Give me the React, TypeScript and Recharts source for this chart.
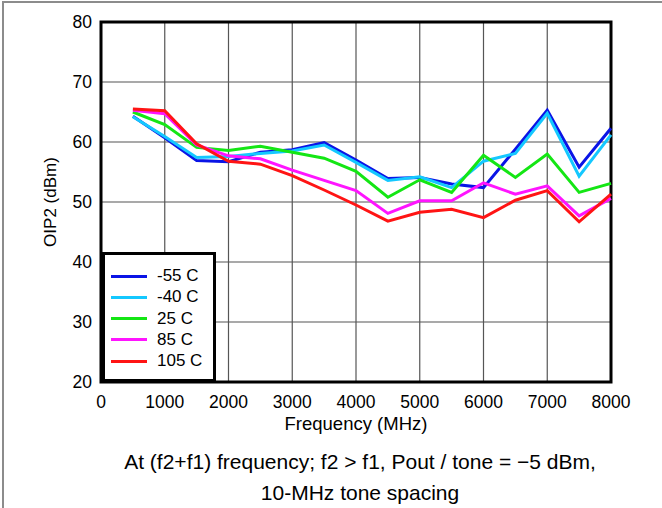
import React from "react";
import {
  LineChart,
  Line,
  XAxis,
  YAxis,
  CartesianGrid,
  ReferenceArea,
} from "recharts";

// frequency points (MHz)
const freqs = [500, 1000, 1500, 2000, 2500, 3000, 3500, 4000, 4500, 5000, 5500, 6000, 6500, 7000, 7500, 8000];

// OIP2 (dBm) per temperature
const m55 = [64.3, 60.7, 56.9, 56.7, 58.3, 58.7, 59.9, 57.0, 53.9, 54.1, 53.0, 52.4, 58.8, 65.3, 55.8, 62.3];
const m40 = [64.2, 60.9, 57.4, 57.6, 58.1, 58.5, 59.5, 56.6, 53.6, 54.2, 52.4, 56.8, 58.1, 64.8, 54.3, 61.2];
const t25 = [65.0, 62.9, 59.1, 58.6, 59.3, 58.3, 57.3, 55.1, 50.8, 53.7, 51.6, 57.8, 54.1, 58.0, 51.6, 53.1];
const t85 = [65.3, 64.7, 59.5, 57.7, 57.2, 55.3, 53.6, 51.9, 48.1, 50.2, 50.2, 53.2, 51.3, 52.7, 47.7, 50.6];
const t105 = [65.5, 65.2, 59.7, 56.8, 56.3, 54.4, 52.0, 49.5, 46.8, 48.3, 48.8, 47.4, 50.3, 51.9, 46.7, 51.3];

const xTicks = [0, 1000, 2000, 3000, 4000, 5000, 6000, 7000, 8000];
const yTicks = [20, 30, 40, 50, 60, 70, 80];

const series = [
  { key: "m55", name: "-55 C", color: "#0a14e6" },
  { key: "m40", name: "-40 C", color: "#14c8ff" },
  { key: "t25", name: "25 C", color: "#14e614" },
  { key: "t85", name: "85 C", color: "#ff14ff" },
  { key: "t105", name: "105 C", color: "#ff1414" },
];

const data = freqs.map((f, i) => ({
  freq: f,
  m55: m55[i],
  m40: m40[i],
  t25: t25[i],
  t85: t85[i],
  t105: t105[i],
}));

const FONT = "'Liberation Sans', Arial, sans-serif";

export default function App() {
  const tickStyle = { fill: "#000", fontSize: 17.5, fontFamily: FONT };
  const captionStyle: React.CSSProperties = {
    position: "absolute",
    left: 10,
    width: 700,
    textAlign: "center",
    fontSize: 21,
    color: "#000",
    lineHeight: "26px",
    whiteSpace: "nowrap",
  };

  return (
    <div
      style={{
        position: "absolute",
        left: 0,
        top: 0,
        width: 662,
        height: 508,
        background: "#fff",
        fontFamily: FONT,
        overflow: "hidden",
      }}
    >
      <div
        style={{
          position: "absolute",
          left: 2,
          top: 1,
          width: 670,
          height: 520,
          borderTop: "2px solid #8c8c8c",
          borderLeft: "2px solid #8c8c8c",
        }}
      />
      <LineChart
        width={662}
        height={508}
        data={data}
        margin={{ top: 22, right: 51, bottom: 78, left: 0 }}
        style={{ position: "absolute", left: 0, top: 0 }}
      >
        <CartesianGrid stroke="#555" strokeWidth={1.2} horizontalValues={yTicks} verticalValues={xTicks} />
        <XAxis
          dataKey="freq"
          type="number"
          domain={[0, 8000]}
          ticks={xTicks}
          tickLine={false}
          axisLine={false}
          tickSize={0}
          tickMargin={14}
          tick={tickStyle}
          height={48}
          interval={0}
          label={{
            value: "Frequency (MHz)",
            position: "insideBottom",
            offset: 0,
            fill: "#000",
            fontSize: 18.5,
            fontFamily: FONT,
          }}
        />
        <YAxis
          type="number"
          domain={[20, 80]}
          ticks={yTicks}
          tickLine={false}
          axisLine={false}
          tickSize={0}
          tickMargin={9}
          tick={tickStyle}
          width={101}
          interval={0}
          label={{
            value: "OIP2 (dBm)",
            angle: -90,
            position: "center",
            dx: -1,
            fill: "#000",
            fontSize: 17,
            fontFamily: FONT,
          }}
        />
        {series.map((s) => (
          <Line
            key={s.key}
            dataKey={s.key}
            name={s.name}
            stroke={s.color}
            strokeWidth={3}
            dot={false}
            type="linear"
            isAnimationActive={false}
          />
        ))}
        <ReferenceArea
          x1={0}
          x2={8000}
          y1={20}
          y2={80}
          fill="none"
          fillOpacity={0}
          stroke="#000"
          strokeWidth={3}
          strokeOpacity={1}
          ifOverflow="visible"
        />
      </LineChart>

      {/* legend */}
      <div
        style={{
          position: "absolute",
          left: 102,
          top: 252,
          width: 108,
          height: 124,
          background: "#fff",
          border: "3px solid #000",
        }}
      >
        {series.map((s, i) => (
          <div
            key={s.key}
            style={{
              position: "absolute",
              left: 6,
              top: 11 + i * 21.3,
              height: 20,
              display: "flex",
              alignItems: "center",
            }}
          >
            <div style={{ width: 36, height: 3, background: s.color }} />
            <span style={{ marginLeft: 10, fontSize: 17, color: "#000" }}>{s.name}</span>
          </div>
        ))}
      </div>

      {/* caption */}
      <div style={{ ...captionStyle, top: 449 }}>
        At (f2+f1) frequency; f2 &gt; f1, Pout / tone = −5 dBm,
      </div>
      <div style={{ ...captionStyle, top: 480 }}>10-MHz tone spacing</div>
    </div>
  );
}
